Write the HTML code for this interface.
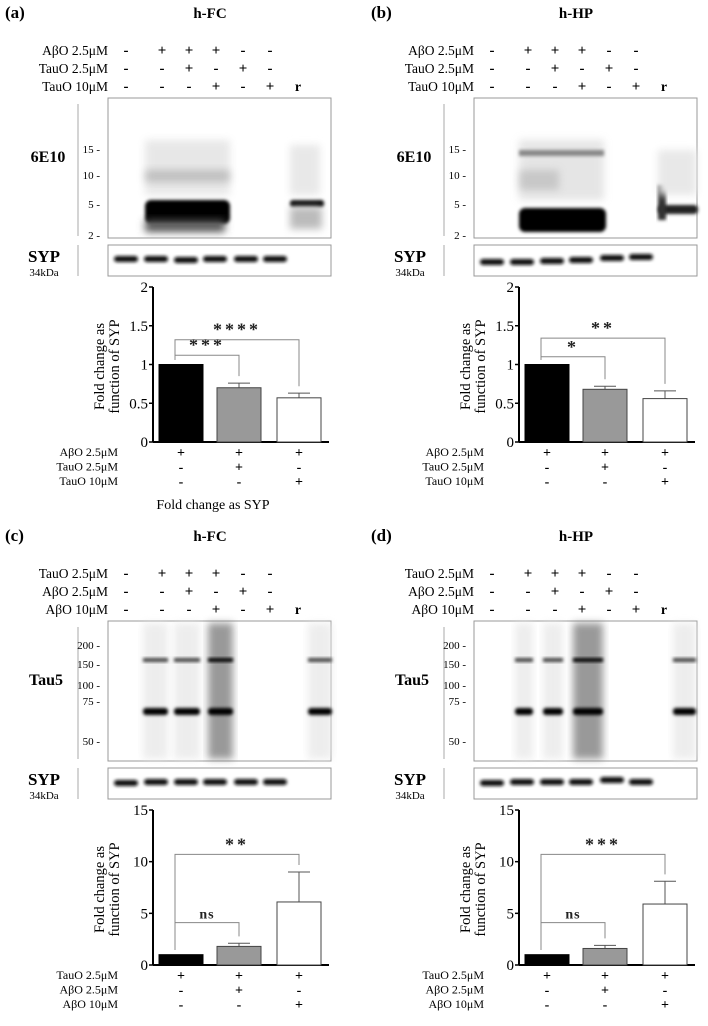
<!DOCTYPE html>
<html><head><meta charset="utf-8"><style>
body{margin:0;background:#fff}
svg{display:block;font-family:"Liberation Serif",serif}
</style></head><body>
<svg id="fig" width="708" height="1026" viewBox="0 0 708 1026">
<defs>
<filter id="bl" x="-20%" y="-50%" width="140%" height="200%"><feGaussianBlur stdDeviation="1.6"/></filter>
<filter id="bl2" x="-20%" y="-50%" width="140%" height="200%"><feGaussianBlur stdDeviation="4"/></filter>
</defs>
</svg>
<script>
const ticksAB=[0,0.5,1,1.5,2];
const tickLabelsAB=["0","0.5","1","1.5","2"];
const ticksCD=[0,5,10,15];
const tickLabelsCD=["0","5","10","15"];
const categoriesAB=["AβO","AβO+TauO 2.5","AβO+TauO 10"];
const categoriesCD=["TauO","TauO+AβO 2.5","TauO+AβO 10"];
const aMeans=[1,0.7,0.57];
const aErr=[0,0.06,0.06];
const bMeans=[1,0.68,0.56];
const bErr=[0,0.04,0.1];
const cMeans=[1,1.8,6.1];
const cErr=[0,0.3,2.9];
const dMeans=[1,1.6,5.9];
const dErr=[0,0.3,2.2];
const aSigLabels=["***","****"];
const aSigLevels=[1.12,1.32];
const bSigLabels=["*","**"];
const bSigLevels=[1.1,1.34];
const cSigLabels=["ns","**"];
const cSigLevels=[4.1,10.7];
const dSigLabels=["ns","***"];
const dSigLevels=[4.1,10.7];

const NS="http://www.w3.org/2000/svg";
const svg=document.getElementById('fig');
function mk(tag,attrs,parent,text){const e=document.createElementNS(NS,tag);for(const k in attrs)e.setAttribute(k,attrs[k]);if(text!==undefined)e.textContent=text;(parent||svg).appendChild(e);return e;}

function panel(o){
  const g=mk('g',{transform:`translate(${o.dx},${o.dy})`});
  
  
  let t=mk('text',{x:5,y:18,'font-size':17,'font-weight':'bold'},g,'('+o.id+')');
  
  
  t=mk('text',{x:210,y:18,'font-size':15,'font-weight':'bold','text-anchor':'middle'},g,o.region);
  
  
  const colX=[126,162,189,216,243,270,298];
  o.topRows.forEach((r,i)=>{
    const y=55+i*18;
    const l=mk('text',{x:108,y:y,'font-size':13.5,'text-anchor':'end'},g,r[0]);
    
    
    r[1].forEach((s,j)=>{
      const m=mk('text',{x:colX[j],y:y,'font-size':s=='r'?14:15,'font-weight':'bold','text-anchor':'middle'},g,s=='-'?'-':s);
      
      
    });
  });
  const bx=108,by=98,bw=223,bh=140;
  const blot=mk('g',{},g);
  
  
  mk('rect',{x:bx,y:by,width:bw,height:bh,fill:'#fff',stroke:'#999','stroke-width':1},blot);
  o.drawBlot(blot,bx,by);
  mk('line',{x1:78,y1:104,x2:78,y2:236,stroke:'#aaa'},g);
  t=mk('text',{x:o.abX,y:162,'font-size':16,'font-weight':'bold','text-anchor':'middle'},g,o.ab);
  
  
  o.mw.forEach(m=>{const e=mk('text',{x:100,y:m[1]+4,'font-size':11,'text-anchor':'end'},g,m[0]+' -');
    
    });
  const syp=mk('g',{},g);
  
  
  mk('rect',{x:108,y:245,width:223,height:31,fill:'#fff',stroke:'#999'},syp);
  const sx=[126,156,186,215,246,275];
  sx.forEach((x,i)=>mk('rect',{x:x-12,y:256+(o.sypOff[i]||0),width:24,height:6,rx:3,fill:'#111',filter:'url(#bl)'},syp));
  mk('line',{x1:78,y1:245,x2:78,y2:276,stroke:'#aaa'},g);
  t=mk('text',{x:44,y:262,'font-size':17,'font-weight':'bold','text-anchor':'middle'},g,'SYP');
  
  
  mk('text',{x:44,y:276,'font-size':11,'text-anchor':'middle'},g,'34kDa');
  const ch=mk('g',{},g);
  
  
  const ax=153,y0=442,yt=287,xe=329,ymax=o.ticks[o.ticks.length-1];
  const Y=v=>y0-(v/ymax)*(y0-yt);
  const cx=[181,239,299],bwid=44;
  mk('line',{x1:ax,y1:yt,x2:ax,y2:y0,stroke:'#000','stroke-width':2},ch);
  mk('line',{x1:ax,y1:y0,x2:xe,y2:y0,stroke:'#000','stroke-width':2},ch);
  o.ticks.forEach((v,i)=>{mk('line',{x1:ax-4,y1:Y(v),x2:ax,y2:Y(v),stroke:'#000','stroke-width':1.5},ch);
    const e=mk('text',{x:ax-5,y:Y(v)+5,'font-size':15,'text-anchor':'end'},ch,o.tickLabels[i]);
    
    });
  const yt2=mk('text',{transform:`translate(107,${(yt+y0)/2+2}) rotate(-90)`,'font-size':14.5,'text-anchor':'middle'},ch);
  
  
  mk('tspan',{x:0,dy:-3},yt2,'Fold change as');
  mk('tspan',{x:0,dy:15},yt2,'function of SYP');
  const fills=['#000','#999','#fff'];
  o.means.forEach((v,i)=>{
    if(o.err[i]>0){mk('line',{x1:cx[i],y1:Y(v),x2:cx[i],y2:Y(v+o.err[i]),stroke:'#555'},ch);
      mk('line',{x1:cx[i]-11,y1:Y(v+o.err[i]),x2:cx[i]+11,y2:Y(v+o.err[i]),stroke:'#555'},ch);}
    const b=mk('rect',{x:cx[i]-bwid/2,y:Y(v),width:bwid,height:y0-Y(v),fill:fills[i],stroke:i==0?'#000':'#444','stroke-width':1},ch);
    
    
  });
  const gap=(y0-yt)*0.03;
  o.sigLevels.forEach((lv,k)=>{
    const j=k+1,yl=Y(lv);
    const ylft=Y(o.means[0]+o.err[0])-gap, yr=Y(o.means[j]+o.err[j])-gap*1.5;
    mk('polyline',{points:`${cx[0]-6},${ylft} ${cx[0]-6},${yl} ${cx[j]},${yl} ${cx[j]},${yr}`,fill:'none',stroke:'#888','stroke-width':1},ch);
    const s=mk('text',{x:(cx[0]+cx[j])/2-3,y:yl-4,'font-size':o.sigLabels[k]=='ns'?14:18,'font-weight':'bold','text-anchor':'middle','letter-spacing':o.sigLabels[k]=='ns'?1:3,fill:'#222'},ch,o.sigLabels[k]);
    
    
  });
  o.botRows.forEach((r,i)=>{
    const y=456+i*14.5;
    const l=mk('text',{x:118,y:y,'font-size':12,'text-anchor':'end'},ch,r[0]);
    
    
    r[1].forEach((s,j)=>{const m=mk('text',{x:cx[j],y:y+1,'font-size':14,'font-weight':'bold','text-anchor':'middle'},ch,s);
      
      });
  });
  if(o.foot){const f=mk('text',{x:213,y:509,'font-size':14,'text-anchor':'middle'},g,o.foot);
    
    }
}

function abBlot(variant){return (b,bx,by)=>{
  if(variant=='a'){
    mk('rect',{x:145,y:140,width:85,height:55,fill:'#ccc',opacity:.45,filter:'url(#bl2)'},b);
    mk('rect',{x:145,y:170,width:85,height:12,fill:'#999',opacity:.5,filter:'url(#bl2)'},b);
    mk('rect',{x:145,y:200,width:85,height:24,rx:6,fill:'#000',filter:'url(#bl)'},b);
    mk('rect',{x:145,y:220,width:80,height:12,fill:'#555',filter:'url(#bl2)'},b);
    mk('rect',{x:290,y:200,width:34,height:7,rx:3,fill:'#000',filter:'url(#bl)'},b);
    mk('rect',{x:290,y:207,width:32,height:22,fill:'#bbb',filter:'url(#bl2)'},b);
    mk('rect',{x:290,y:145,width:30,height:50,fill:'#e8e8e8',filter:'url(#bl2)'},b);
  } else {
    mk('rect',{x:153,y:140,width:85,height:60,fill:'#ccc',opacity:.5,filter:'url(#bl2)'},b);
    mk('rect',{x:153,y:150,width:85,height:6,fill:'#888',filter:'url(#bl)'},b);
    mk('rect',{x:153,y:170,width:40,height:20,fill:'#aaa',opacity:.5,filter:'url(#bl2)'},b);
    mk('rect',{x:153,y:208,width:87,height:24,rx:6,fill:'#000',filter:'url(#bl)'},b);
    mk('rect',{x:292,y:205,width:40,height:9,rx:4,fill:'#222',filter:'url(#bl)'},b);
    mk('rect',{x:292,y:185,width:8,height:35,fill:'#333',filter:'url(#bl)'},b);
    mk('rect',{x:292,y:150,width:38,height:45,fill:'#e8e8e8',filter:'url(#bl2)'},b);
  }
}}
function tauBlot(variant){return (b,bx,by)=>{
  const L=variant=='c'?[[143,168],[174,200],[208,233],[308,332]]:[[157,175],[185,205],[215,245],[315,338]];
  const sh=variant=='c'?0:-8;
  L.forEach((l,i)=>{
    const w=l[1]-l[0];
    mk('rect',{x:l[0]+sh,y:100,width:w,height:136,fill:i==2?'#777':'#e6e6e6',opacity:i==2?.75:.7,filter:'url(#bl2)'},b);
    mk('rect',{x:l[0]+sh,y:135,width:w,height:4,fill:i==2?'#000':'#444',filter:'url(#bl)'},b);
    mk('rect',{x:l[0]+sh,y:185,width:w,height:7,rx:3,fill:'#000',filter:'url(#bl)'},b);
  });
}}

const tauRows=[["TauO 2.5μM",["-","+","+","+","-","-",""]],["AβO 2.5μM",["-","-","+","-","+","-",""]],["AβO 10μM",["-","-","-","+","-","+","r"]]];
const abRows=[["AβO 2.5μM",["-","+","+","+","-","-",""]],["TauO 2.5μM",["-","-","+","-","+","-",""]],["TauO 10μM",["-","-","-","+","-","+","r"]]];
const abBot=[["AβO 2.5μM",["+","+","+"]],["TauO 2.5μM",["-","+","-"]],["TauO 10μM",["-","-","+"]]];
const tauBot=[["TauO 2.5μM",["+","+","+"]],["AβO 2.5μM",["-","+","-"]],["AβO 10μM",["-","-","+"]]];
const mwAB=[["15",149],["10",175],["5",204],["2",235]];
const mwCD=[["200",122],["150",141],["100",162],["75",178],["50",218]];

panel({id:'a',dx:0,dy:0,region:'h-FC',topRows:abRows,drawBlot:abBlot('a'),ab:'6E10',abX:48,mw:mwAB,sypOff:[0,0,1,0,0,0],ticks:ticksAB,tickLabels:tickLabelsAB,means:aMeans,err:aErr,cats:categoriesAB,sigLabels:aSigLabels,sigLevels:aSigLevels,botRows:abBot,foot:'Fold change as SYP'});
panel({id:'b',dx:366,dy:0,region:'h-HP',topRows:abRows,drawBlot:abBlot('b'),ab:'6E10',abX:48,mw:mwAB,sypOff:[3,3,2,1,-1,-2],ticks:ticksAB,tickLabels:tickLabelsAB,means:bMeans,err:bErr,cats:categoriesAB,sigLabels:bSigLabels,sigLevels:bSigLevels,botRows:abBot});
panel({id:'c',dx:0,dy:523,region:'h-FC',topRows:tauRows,drawBlot:tauBlot('c'),ab:'Tau5',abX:46,mw:mwCD,sypOff:[1,0,0,0,0,0],ticks:ticksCD,tickLabels:tickLabelsCD,means:cMeans,err:cErr,cats:categoriesCD,sigLabels:cSigLabels,sigLevels:cSigLevels,botRows:tauBot});
panel({id:'d',dx:366,dy:523,region:'h-HP',topRows:tauRows,drawBlot:tauBlot('d'),ab:'Tau5',abX:46,mw:mwCD,sypOff:[1,0,0,0,-2,0],ticks:ticksCD,tickLabels:tickLabelsCD,means:dMeans,err:dErr,cats:categoriesCD,sigLabels:dSigLabels,sigLevels:dSigLevels,botRows:tauBot});
</script>
</body></html>
